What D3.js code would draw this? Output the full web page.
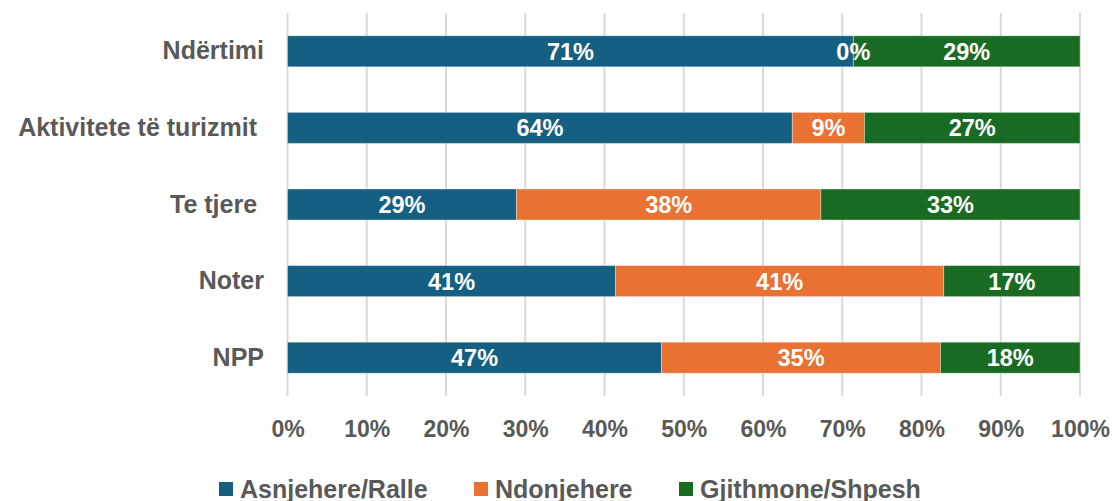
<!DOCTYPE html>
<html>
<head>
<meta charset="utf-8">
<script src="https://cdn.jsdelivr.net/npm/d3@7"></script>
<style>
  html, body { margin: 0; padding: 0; background: #ffffff; }
  svg text { font-family: "Liberation Sans", Arial, sans-serif; font-weight: bold; white-space: pre; }
</style>
</head>
<body>
<svg id="chart" width="1113" height="501"></svg>
<script>
const categories = ["Ndërtimi", "Aktivitete të turizmit ", "Te tjere ", "Noter", "NPP"];
const seriesNames = ["Asnjehere/Ralle", "Ndonjehere", "Gjithmone/Shpesh"];
const asnjehere = [71.4, 63.7, 28.9, 41.4, 47.2];
const ndonjehere = [0, 9.1, 38.4, 41.4, 35.2];
const gjithmone = [28.6, 27.2, 32.7, 17.2, 17.6];
const tickValues = [0, 10, 20, 30, 40, 50, 60, 70, 80, 90, 100];
const colors = ["#156082", "#E97132", "#196B24"];

const svg = d3.select("#chart");
const x = d3.scaleLinear().domain([0, 100]).range([287.5, 1080]);
const y = d3.scaleBand().domain(categories).range([13, 396]).paddingInner(0.595).paddingOuter(0.2975);

// gridlines
svg.append("g").selectAll("line").data(tickValues).join("line")
  .attr("x1", d => x(d)).attr("x2", d => x(d))
  .attr("y1", 13).attr("y2", 396)
  .attr("stroke", "#d9d9d9").attr("stroke-width", 2);

// stacked data
const rows = categories.map((c, i) => ({ cat: c, a: asnjehere[i], b: ndonjehere[i], c: gjithmone[i] }));
const stack = d3.stack().keys(["a", "b", "c"]);
const layers = stack(rows);

const g = svg.append("g");
layers.forEach((layer, li) => {
  g.append("g").selectAll("rect").data(layer).join("rect")
    .attr("x", d => x(d[0]))
    .attr("y", d => y(d.data.cat))
    .attr("width", d => x(d[1]) - x(d[0]))
    .attr("height", y.bandwidth())
    .attr("fill", colors[li])
    .attr("stroke", "#ffffff").attr("stroke-opacity", 0.35).attr("stroke-width", 1);
});
layers.forEach((layer, li) => {
  g.append("g").selectAll("text").data(layer).join("text")
    .attr("x", d => x((d[0] + d[1]) / 2))
    .attr("y", d => y(d.data.cat) + y.bandwidth() / 2)
    .attr("dy", "0.36em")
    .attr("text-anchor", "middle")
    .attr("fill", "#ffffff")
    .attr("font-size", 23.5)
    .text(d => Math.round(d[1] - d[0]) + "%");
});

// category axis labels
const yAxis = d3.axisLeft(y).tickSize(0).tickPadding(0);
const yg = svg.append("g").attr("transform", "translate(264,0)").call(yAxis);
yg.select(".domain").remove();
yg.selectAll("text").attr("font-size", 25).attr("fill", "#595959")
  .style("font-family", '"Liberation Sans", Arial, sans-serif').style("font-weight", "bold");

// x axis tick labels
const xAxis = d3.axisBottom(x).tickValues(tickValues).tickSize(0).tickPadding(0).tickFormat(d => d + "%");
const xg = svg.append("g").attr("transform", "translate(0,421)").call(xAxis);
xg.select(".domain").remove();
xg.selectAll("text").attr("font-size", 23).attr("fill", "#595959").attr("dy", "0.71em")
  .style("font-family", '"Liberation Sans", Arial, sans-serif').style("font-weight", "bold");

// legend
const legendX = [219, 474, 679];
const lg = svg.append("g").selectAll("g").data(seriesNames).join("g")
  .attr("transform", (d, i) => `translate(${legendX[i]},482)`);
lg.append("rect").attr("width", 14).attr("height", 14).attr("fill", (d, i) => colors[i]);
lg.append("text").attr("x", 21).attr("y", 7).attr("dy", "0.36em")
  .attr("font-size", 25).attr("fill", "#595959").text(d => d);
</script>
</body>
</html>
